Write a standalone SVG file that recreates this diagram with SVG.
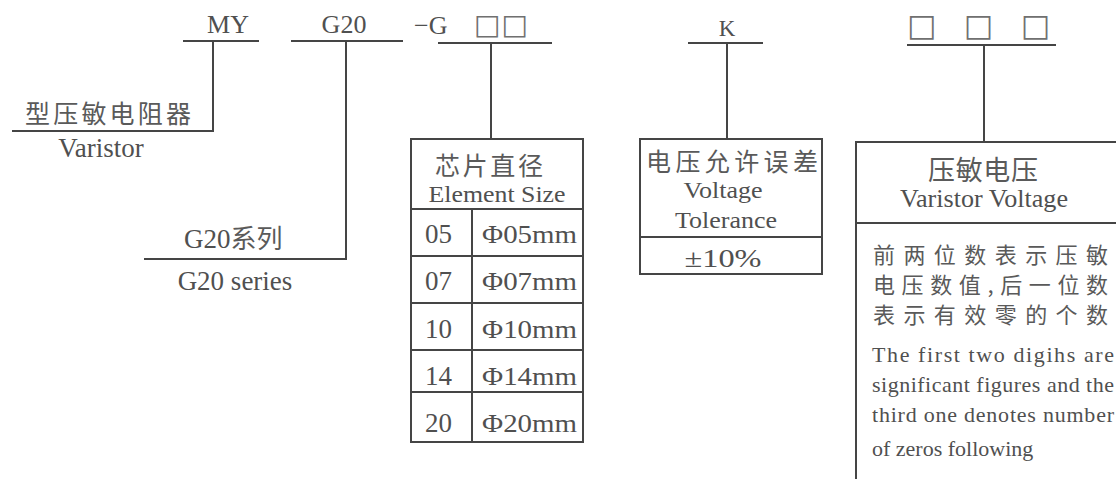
<svg xmlns="http://www.w3.org/2000/svg" width="1116" height="479" viewBox="0 0 1116 479">
<style>
.ln{stroke:#454545;stroke-width:2;fill:none}
.bx{stroke:#454545;stroke-width:2;fill:#fff}
text{fill:#505050;font-family:"Liberation Serif","Noto Sans CJK SC",serif}
.cj{font-family:"Noto Sans CJK SC",sans-serif;font-weight:400;fill:#5a5a5a}
.sq{font-family:"DejaVu Sans",sans-serif;fill:#707070}
.m{text-anchor:middle}
</style>
<rect width="1116" height="479" fill="#fff"/>
<g id="connectors">
<path class="ln" d="M183 41H259M213 41V131H12"/>
<path class="ln" d="M291 41H403M346 41V259H144"/>
<path class="ln" d="M438 43H552M491 43V138"/>
<path class="ln" d="M688 43H763M727 43V139"/>
<path class="ln" d="M907 45H1056M984 45V142"/>
</g>
<g id="code-my">
<text x="228" y="33" class="m" font-size="26">MY</text>
</g>
<g id="code-g20">
<text x="344" y="33" class="m" font-size="26">G20</text>
</g>
<g id="code-size">
<text x="414" y="34" font-size="26">−G</text>
<text x="474" y="34" class="sq" font-size="28" textLength="54" lengthAdjust="spacing">□□</text>
</g>
<g id="code-k">
<text x="727" y="36" class="m" font-size="23">K</text>
</g>
<g id="code-voltage">
<text x="907" y="36" class="sq" font-size="31" textLength="143" lengthAdjust="spacing">□ □ □</text>
</g>
<g id="label-varistor">
<text x="25" y="123" class="cj" font-size="25" textLength="166" lengthAdjust="spacing">型压敏电阻器</text>
<text x="101" y="157" class="m" font-size="27">Varistor</text>
</g>
<g id="label-g20series">
<text x="184" y="248" font-size="27">G20<tspan class="cj" font-size="26">系列</tspan></text>
<text x="235" y="290" class="m" font-size="27">G20 series</text>
</g>
<g id="box-element-size">
<rect class="bx" x="411" y="139" width="172" height="303"/>
<path class="ln" d="M411 209H583M411 256H583M411 303H583M411 350H583M411 392H583M472 209V442"/>
<text x="489" y="175" class="m cj" font-size="25" textLength="108" lengthAdjust="spacing">芯片直径</text>
<text x="497" y="202" class="m" font-size="24" textLength="137" lengthAdjust="spacingAndGlyphs">Element Size</text>
<text x="425" y="243" font-size="27">05</text><text x="482" y="243" font-size="26" textLength="95" lengthAdjust="spacingAndGlyphs">Φ05mm</text>
<text x="425" y="290" font-size="27">07</text><text x="482" y="290" font-size="26" textLength="95" lengthAdjust="spacingAndGlyphs">Φ07mm</text>
<text x="425" y="338" font-size="27">10</text><text x="482" y="338" font-size="26" textLength="95" lengthAdjust="spacingAndGlyphs">Φ10mm</text>
<text x="425" y="385" font-size="27">14</text><text x="482" y="385" font-size="26" textLength="95" lengthAdjust="spacingAndGlyphs">Φ14mm</text>
<text x="425" y="432" font-size="27">20</text><text x="482" y="432" font-size="26" textLength="95" lengthAdjust="spacingAndGlyphs">Φ20mm</text>
</g>
<g id="box-tolerance">
<rect class="bx" x="640" y="139" width="182" height="135"/>
<path class="ln" d="M640 237H822"/>
<text x="646" y="171" class="cj" font-size="25" textLength="172" lengthAdjust="spacing">电压允许误差</text>
<text x="723" y="198" class="m" font-size="24" textLength="79" lengthAdjust="spacingAndGlyphs">Voltage</text>
<text x="726" y="228" class="m" font-size="24" textLength="102" lengthAdjust="spacingAndGlyphs">Tolerance</text>
<text x="723" y="267" class="m" font-size="26" textLength="77" lengthAdjust="spacingAndGlyphs">±10%</text>
</g>
<g id="box-voltage">
<path class="ln" d="M856 479V142H1118M856 223H1118"/>
<text x="983" y="180" class="m cj" font-size="27" textLength="110" lengthAdjust="spacing">压敏电压</text>
<text x="984" y="207" class="m" font-size="25" textLength="168" lengthAdjust="spacingAndGlyphs">Varistor Voltage</text>
<text x="873" y="263" class="cj" font-size="22" textLength="235" lengthAdjust="spacing">前两位数表示压敏</text>
<text x="873" y="293" class="cj" font-size="22" textLength="235" lengthAdjust="spacing">电压数值,后一位数</text>
<text x="873" y="323" class="cj" font-size="22" textLength="235" lengthAdjust="spacing">表示有效零的个数</text>
<text x="872" y="362" font-size="22" textLength="242" lengthAdjust="spacing">The first two digihs are</text>
<text x="872" y="392" font-size="22" textLength="242" lengthAdjust="spacing">significant figures and the</text>
<text x="872" y="422" font-size="22" textLength="242" lengthAdjust="spacing">third one denotes number</text>
<text x="872" y="456" font-size="22">of zeros following</text>
</g>
</svg>
